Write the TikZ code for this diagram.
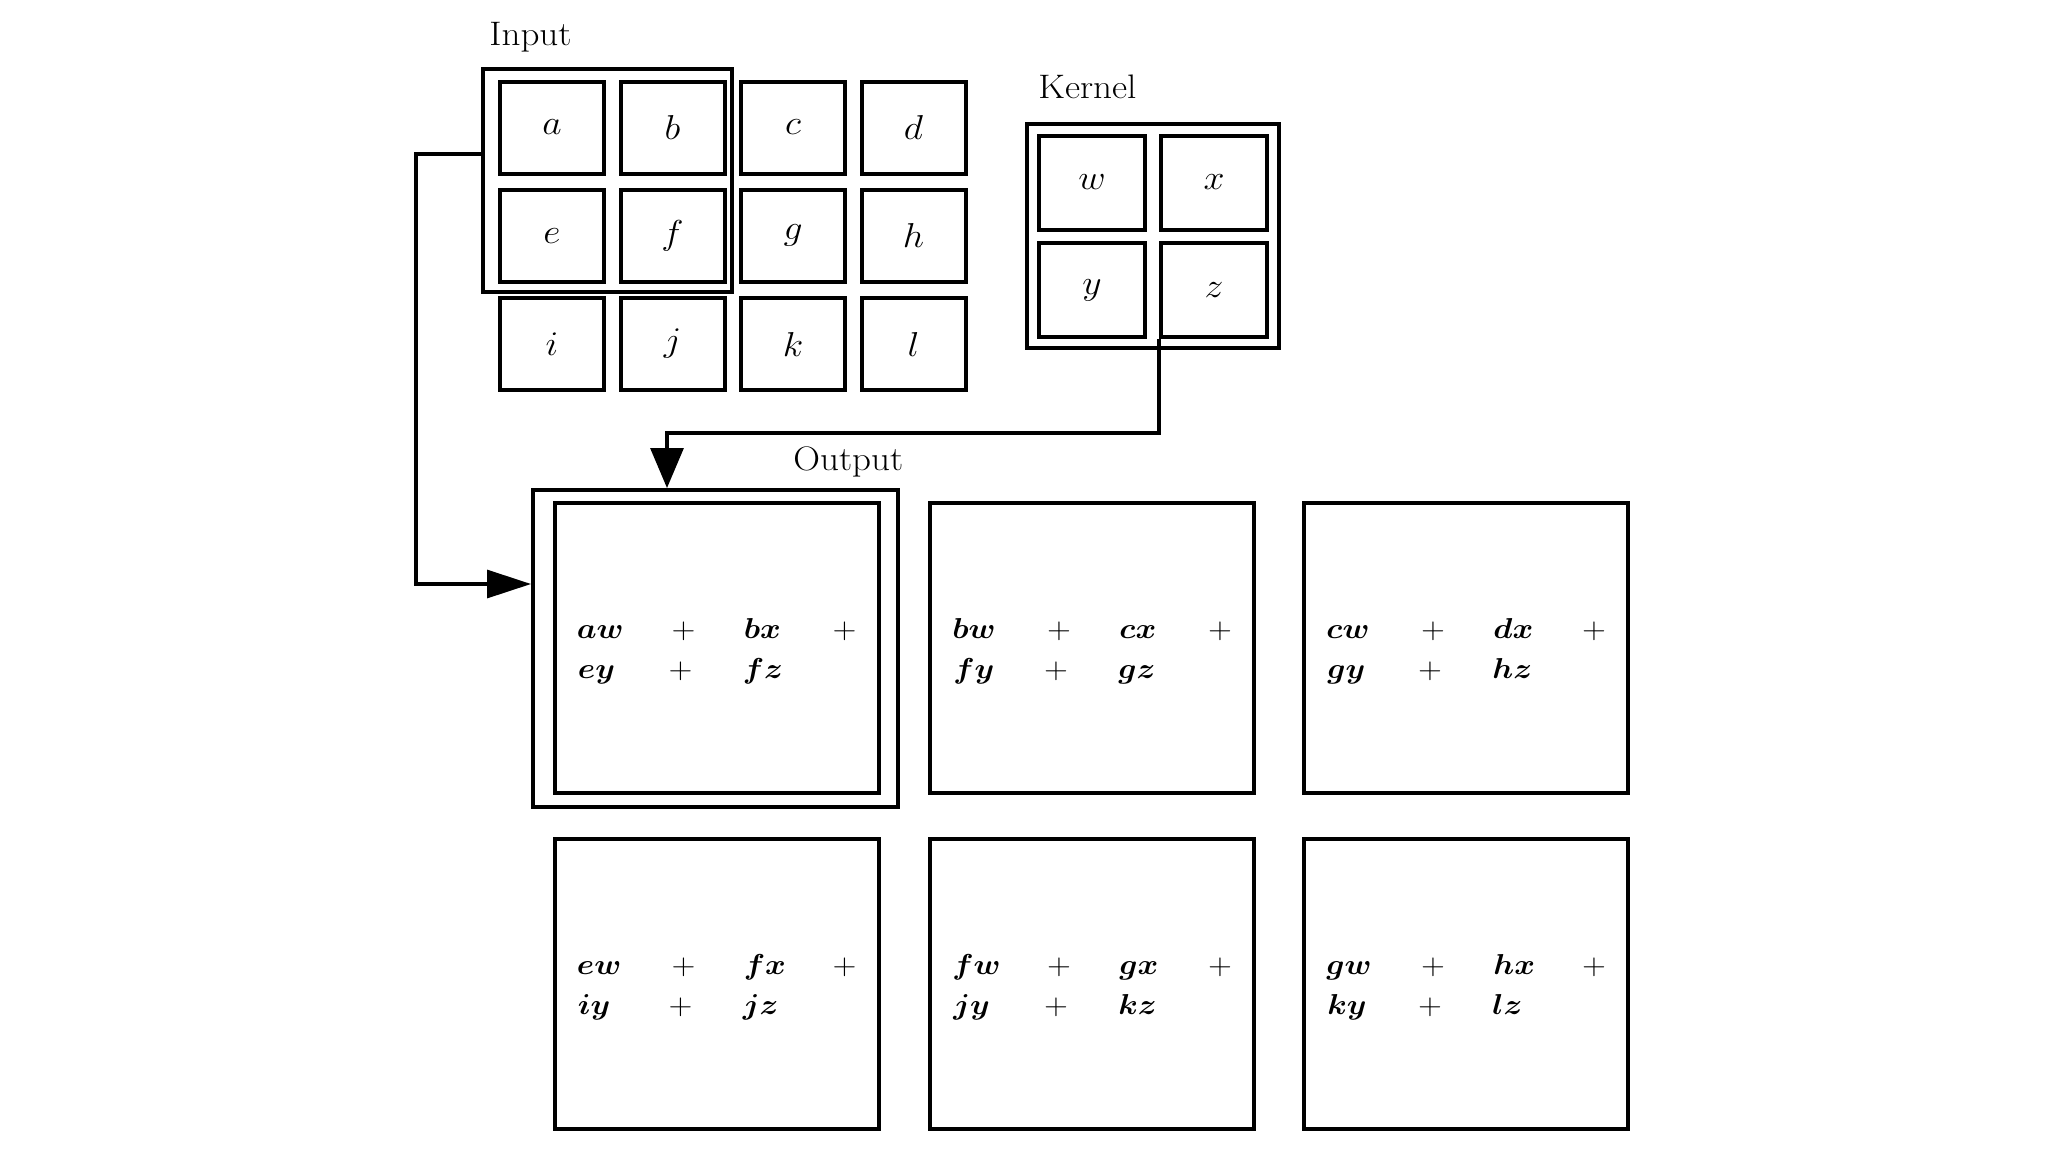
\documentclass[tikz,border=0pt]{standalone}
\usepackage{bm}
\usepackage{graphicx}
\usetikzlibrary{arrows.meta,calc}
\newcommand\hstr[1]{\scalebox{1.09}[1]{#1}}
\tikzset{
  cellbox/.style={draw, line width=2pt, minimum width=52pt, minimum height=46pt, inner sep=0pt, font=\fontsize{17}{20}\selectfont},
  selbox/.style={draw, line width=1.6pt, inner sep=0pt},
  obox/.style={draw, line width=2pt, inner sep=0pt, minimum width=162pt, minimum height=145pt},
  lbl/.style={inner sep=0pt, font=\fontsize{17}{20}\selectfont},
  mt/.style={inner sep=0pt, font=\fontsize{15.8}{20}\selectfont},
  conn/.style={line width=1.6pt},
}
\newcommand\outterms[5]{%
  \node[mt, anchor=base west] (#1-a) at ($(#1.north west)+(24,138)$) {\hstr{$\bm{#2}$}};
  \node[mt, anchor=base]      (#1-p) at ($(#1.north west)+(131,138)$) {\hstr{$+$}};
  \node[mt, anchor=base west] (#1-b) at ($(#1.north west)+(191,138)$) {\hstr{$\bm{#3}$}};
  \node[mt, anchor=base]      (#1-q) at ($(#1.north west)+(292,138)$) {\hstr{$+$}};
  \node[mt, anchor=base west] (#1-c) at ($(#1.north west)+(25,178)$) {\hstr{$\bm{#4}$}};
  \node[mt, anchor=base]      (#1-r) at ($(#1.north west)+(128,178)$) {\hstr{$+$}};
  \node[mt, anchor=base west] (#1-d) at ($(#1.north west)+(190,178)$) {\hstr{$\bm{#5}$}};
}
\begin{document}
\begin{tikzpicture}[x=0.5pt,y=-0.5pt]
\fill[white] (0,0) rectangle (2048,1152);
\useasboundingbox (0,0) rectangle (2048,1152);

% labels
\node[lbl, anchor=base west] (inlab) at (489,45) {\hstr{Input}};
\node[lbl, anchor=base west] (klab) at (1038,98) {\hstr{Kernel}};
\node[lbl, anchor=base west] (olab) at (793,470) {\hstr{Output}};

% input cells
\node[cellbox] (ia) at (552,127.5) {\hstr{$a$}};
\node[cellbox] (ib) at (672.5,127.5) {\hstr{$b$}};
\node[cellbox] (ic) at (793,127.5) {\hstr{$c$}};
\node[cellbox] (id) at (913.5,127.5) {\hstr{$d$}};
\node[cellbox] (ie) at (552,235.8) {\hstr{$e$}};
\node[cellbox] (if) at (672.5,235.8) {\hstr{$f$}};
\node[cellbox] (ig) at (793,235.8) {\hstr{$g$}};
\node[cellbox] (ih) at (913.5,235.8) {\hstr{$h$}};
\node[cellbox] (ii) at (552,344) {\hstr{$i$}};
\node[cellbox] (ij) at (672.5,344) {\hstr{$j$}};
\node[cellbox] (ik) at (793,344) {\hstr{$k$}};
\node[cellbox] (il) at (913.5,344) {\hstr{$l$}};

% selection window on the input
\node[selbox, minimum width=124.5pt, minimum height=111.5pt] (sel) at (607.5,180.5) {};

% kernel
\node[selbox, line width=2pt, minimum width=126pt, minimum height=112pt] (kout) at (1152.5,236) {};
\node[cellbox, minimum width=53pt, minimum height=47pt] (kw) at (1092,182.5) {\hstr{$w$}};
\node[cellbox, minimum width=53pt, minimum height=47pt] (kx) at (1214,182.5) {\hstr{$x$}};
\node[cellbox, minimum width=53pt, minimum height=47pt] (ky) at (1092,290) {\hstr{$y$}};
\node[cellbox, minimum width=53pt, minimum height=47pt] (kz) at (1214,290) {\hstr{$z$}};

% output
\node[obox, minimum width=182.5pt, minimum height=158.5pt] (oo1) at (715.5,648.5) {};
\node[obox] (o1) at (716.5,647.5) {};
\node[obox] (o2) at (1092,647.5) {};
\node[obox] (o3) at (1466,647.5) {};
\node[obox] (o4) at (716.5,983.5) {};
\node[obox] (o5) at (1092,983.5) {};
\node[obox] (o6) at (1466,983.5) {};

\outterms{o1}{aw}{bx}{ey}{fz}
\outterms{o2}{bw}{cx}{fy}{gz}
\outterms{o3}{cw}{dx}{gy}{hz}
\outterms{o4}{ew}{fx}{iy}{jz}
\outterms{o5}{fw}{gx}{jy}{kz}
\outterms{o6}{gw}{hx}{ky}{lz}

% connectors
\draw[conn, -{Triangle[length=22pt,width=14pt]}]
  ([yshift=-43.25pt]sel.north west) -- ++(-65.5,0) |- ([yshift=-48pt]oo1.north west);
\draw[conn, -{Triangle[length=20pt,width=16.5pt]}]
  (kz.south west) |- ([xshift=68pt,yshift=27.5pt]oo1.north west) -- ([xshift=68pt]oo1.north west);
\end{tikzpicture}
\end{document}
